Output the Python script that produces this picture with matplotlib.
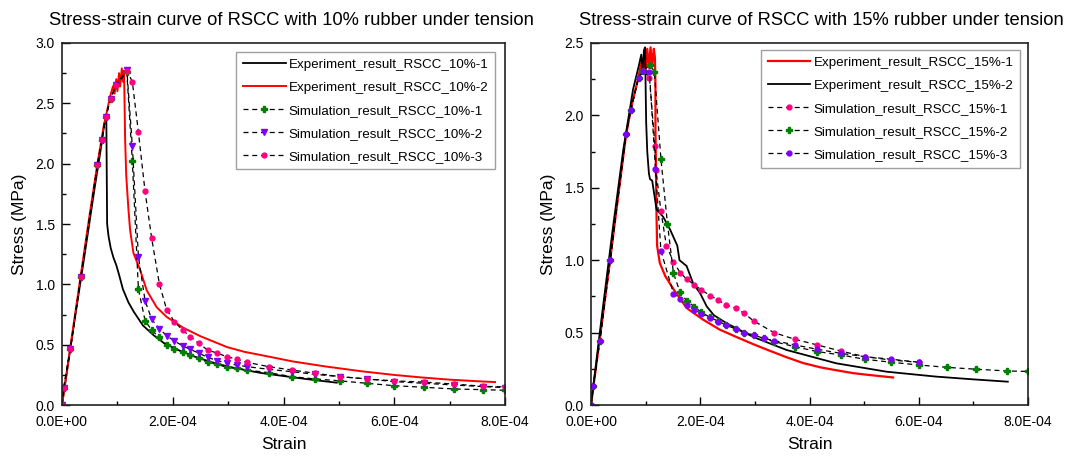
import matplotlib
matplotlib.use("Agg")
import matplotlib.pyplot as plt
from matplotlib.ticker import FuncFormatter, MultipleLocator

plt.rcParams['font.family'] = ['Liberation Sans', 'DejaVu Sans']

SCALE = 1e-4  # strain arrays below are given in units of 1e-4

# ---------------- 10% rubber ----------------
exp10_1_x = [0, 0.2, 0.4, 0.59, 0.7, 0.76, 0.80, 0.805, 0.81, 0.815, 0.84, 0.88, 0.93, 0.98, 1.03,
             1.10, 1.20, 1.30, 1.46, 1.65, 1.85, 2.10, 2.40, 2.70, 3.00, 3.30, 3.60, 4.00, 4.50, 4.96]
exp10_1_y = [0, 0.62, 1.22, 1.80, 2.12, 2.32, 2.41, 2.10, 1.80, 1.50, 1.40, 1.30, 1.22, 1.16, 1.08,
             0.96, 0.85, 0.77, 0.66, 0.58, 0.51, 0.455, 0.40, 0.355, 0.318, 0.29, 0.265, 0.24, 0.21, 0.185]

exp10_2_x = [0, 0.15, 0.34, 0.5, 0.64, 0.75, 0.87, 0.92, 0.95, 0.98, 1.0, 1.03, 1.05, 1.08, 1.10, 1.12,
             1.13, 1.14, 1.16, 1.20, 1.23, 1.29, 1.41, 1.53, 1.71, 1.89, 2.19, 2.50, 2.98, 3.30, 3.58,
             4.18, 4.78, 5.40, 5.98, 6.50, 7.00, 7.50, 7.82]
exp10_2_y = [0, 0.48, 1.08, 1.58, 2.0, 2.3, 2.56, 2.64, 2.58, 2.70, 2.60, 2.75, 2.64, 2.79, 2.68, 2.77,
             2.50, 2.20, 1.90, 1.62, 1.45, 1.26, 1.12, 0.95, 0.81, 0.73, 0.64, 0.57, 0.48, 0.44, 0.415,
             0.36, 0.318, 0.28, 0.25, 0.228, 0.21, 0.197, 0.19]

sim10_1_x = [0, 0.03, 0.15, 0.34, 0.64, 0.72, 0.79, 0.88, 0.975, 1.17, 1.27, 1.38, 1.50, 1.62, 1.76,
             1.89, 2.03, 2.18, 2.32, 2.47, 2.63, 2.80, 2.98, 3.16, 3.34, 3.73, 4.15, 4.57, 5.02, 5.50,
             6.0, 6.53, 7.07, 7.61, 8.0]
sim10_1_y = [0, 0.14, 0.46, 1.06, 1.99, 2.2, 2.39, 2.54, 2.65, 2.76, 2.02, 0.96, 0.70, 0.62, 0.56,
             0.50, 0.46, 0.44, 0.415, 0.387, 0.354, 0.337, 0.312, 0.304, 0.29, 0.268, 0.235, 0.216, 0.20, 0.18,
             0.16, 0.147, 0.133, 0.127, 0.122]

sim10_2_x = [0, 0.03, 0.15, 0.34, 0.64, 0.72, 0.79, 0.88, 0.975, 1.17, 1.27, 1.38, 1.50, 1.62, 1.76,
             1.89, 2.03, 2.18, 2.32, 2.47, 2.63, 2.80, 2.98, 3.16, 3.34, 3.73, 4.15, 4.57, 5.02, 5.50,
             6.0, 6.53, 7.07, 7.61, 8.0]
sim10_2_y = [0, 0.14, 0.46, 1.06, 1.99, 2.2, 2.39, 2.54, 2.65, 2.78, 2.15, 1.23, 0.865, 0.71, 0.63,
             0.575, 0.53, 0.49, 0.46, 0.43, 0.395, 0.368, 0.346, 0.33, 0.318, 0.296, 0.276, 0.254, 0.235, 0.216,
             0.194, 0.18, 0.166, 0.152, 0.145]

sim10_3_x = [0, 0.03, 0.15, 0.34, 0.64, 0.72, 0.79, 0.88, 0.975, 1.17, 1.27, 1.38, 1.50, 1.62, 1.76,
             1.89, 2.03, 2.18, 2.32, 2.47, 2.63, 2.80, 2.98, 3.16, 3.34, 3.73, 4.15, 4.57, 5.02, 5.50,
             6.0, 6.53, 7.07, 7.61, 8.0]
sim10_3_y = [0, 0.14, 0.46, 1.06, 1.99, 2.2, 2.39, 2.54, 2.65, 2.77, 2.68, 2.26, 1.77, 1.38, 1.0,
             0.79, 0.69, 0.62, 0.567, 0.51, 0.456, 0.43, 0.40, 0.38, 0.354, 0.318, 0.29, 0.263, 0.235, 0.216,
             0.20, 0.19, 0.174, 0.155, 0.15]

# ---------------- 15% rubber ----------------
exp15_1_x = [0, 0.2, 0.35, 0.5, 0.64, 0.75, 0.86, 0.92, 0.95, 0.98, 1.0, 1.03, 1.06, 1.09, 1.12, 1.15,
             1.17, 1.18, 1.18, 1.19, 1.20, 1.21, 1.26, 1.36, 1.51, 1.75, 2.05, 2.36, 2.66, 2.97, 3.27,
             3.58, 3.88, 4.20, 4.49, 4.80, 5.10, 5.53]
exp15_1_y = [0, 0.57, 1.0, 1.45, 1.86, 2.08, 2.25, 2.36, 2.30, 2.43, 2.32, 2.46, 2.33, 2.47, 2.34, 2.46,
             2.40, 2.20, 1.90, 1.60, 1.30, 1.10, 0.98, 0.89, 0.80, 0.67, 0.59, 0.52, 0.47, 0.42, 0.375,
             0.33, 0.29, 0.26, 0.24, 0.22, 0.207, 0.19]

exp15_2_x = [0, 0.2, 0.4, 0.59, 0.77, 0.88, 0.92, 0.94, 0.97, 0.99, 1.0, 1.01, 1.03, 1.06, 1.08, 1.12,
             1.16, 1.20, 1.32, 1.45, 1.58, 1.62, 1.75, 1.87, 2.0, 2.12, 2.25, 2.48, 2.97, 3.58, 4.49,
             5.41, 6.32, 7.0, 7.63]
exp15_2_y = [0, 0.62, 1.22, 1.76, 2.18, 2.35, 2.42, 2.30, 2.45, 2.47, 2.2, 1.95, 1.75, 1.60, 1.56, 1.55,
             1.45, 1.35, 1.30, 1.21, 1.10, 1.0, 0.96, 0.84, 0.77, 0.68, 0.62, 0.565, 0.47, 0.38, 0.288,
             0.23, 0.196, 0.177, 0.161]

sim15_1_x = [0, 0.04, 0.16, 0.35, 0.64, 0.73, 0.87, 0.96, 1.07, 1.17, 1.19, 1.28, 1.38, 1.51, 1.63,
             1.75, 1.89, 2.02, 2.18, 2.32, 2.48, 2.65, 2.80, 2.98, 3.35, 3.73, 4.14, 4.57, 5.01, 5.50, 6.01]
sim15_1_y = [0, 0.13, 0.44, 1.0, 1.87, 2.04, 2.26, 2.31, 2.26, 1.79, 1.62, 1.34, 1.10, 0.99, 0.915,
             0.87, 0.83, 0.795, 0.756, 0.726, 0.69, 0.668, 0.634, 0.58, 0.50, 0.454, 0.415, 0.373, 0.334, 0.31, 0.295]

sim15_2_x = [0, 0.04, 0.16, 0.35, 0.64, 0.73, 0.87, 0.96, 1.08, 1.16, 1.28, 1.40, 1.51, 1.63, 1.75,
             1.89, 2.02, 2.18, 2.32, 2.48, 2.65, 2.80, 2.98, 3.16, 3.35, 3.73, 4.14, 4.57, 5.01, 5.50,
             6.01, 6.52, 7.05, 7.62, 8.0]
sim15_2_y = [0, 0.13, 0.44, 1.0, 1.87, 2.04, 2.26, 2.31, 2.35, 2.30, 1.70, 1.25, 0.91, 0.78, 0.72,
             0.68, 0.64, 0.606, 0.58, 0.55, 0.525, 0.50, 0.484, 0.46, 0.438, 0.403, 0.369, 0.346, 0.316, 0.295,
             0.276, 0.26, 0.247, 0.235, 0.232]

sim15_3_x = [0, 0.04, 0.16, 0.35, 0.64, 0.73, 0.87, 0.96, 1.07, 1.18, 1.28, 1.51, 1.63, 1.75, 1.89,
             2.02, 2.18, 2.32, 2.48, 2.65, 2.80, 2.98, 3.16, 3.35, 3.73, 4.14, 4.57, 5.01, 5.50, 6.01]
sim15_3_y = [0, 0.13, 0.44, 1.0, 1.87, 2.04, 2.26, 2.31, 2.30, 1.63, 1.065, 0.77, 0.73, 0.69, 0.657,
             0.63, 0.60, 0.575, 0.55, 0.525, 0.50, 0.484, 0.46, 0.445, 0.415, 0.385, 0.357, 0.334, 0.316, 0.295]

titles = ["Stress-strain curve of RSCC with 10% rubber under tension",
          "Stress-strain curve of RSCC with 15% rubber under tension"]
x_ticks = [0, 2e-4, 4e-4, 6e-4, 8e-4]

GREEN = "#008000"
PURPLE = "#8000ff"
PINK = "#ff0080"
DASH = (0, (4, 3))

fig = plt.figure(figsize=(10.69, 4.61), dpi=100)
ax1 = fig.add_axes([62 / 1069, 56 / 461, 443 / 1069, 362 / 461])
ax2 = fig.add_axes([591 / 1069, 56 / 461, 437 / 1069, 362 / 461])


def sx(a):
    return [v * SCALE for v in a]


# left panel
ax1.plot(sx(exp10_1_x), exp10_1_y, color="black", lw=1.3, label="Experiment_result_RSCC_10%-1")
ax1.plot(sx(exp10_2_x), exp10_2_y, color="#ff0000", lw=1.4, label="Experiment_result_RSCC_10%-2")
ax1.plot(sx(sim10_1_x), sim10_1_y, marker="P", mfc=GREEN, mec=GREEN, markersize=4,
         color="black", ls=DASH, lw=0.9, label="Simulation_result_RSCC_10%-1")
ax1.plot(sx(sim10_2_x), sim10_2_y, marker="v", mfc=PURPLE, mec=PURPLE, markersize=4,
         color="black", ls=DASH, lw=0.9, label="Simulation_result_RSCC_10%-2")
ax1.plot(sx(sim10_3_x), sim10_3_y, marker="o", mfc=PINK, mec=PINK, markersize=3.5,
         color="black", ls=DASH, lw=0.9, label="Simulation_result_RSCC_10%-3")

# right panel
ax2.plot(sx(exp15_1_x), exp15_1_y, color="#ff0000", lw=1.6, label="Experiment_result_RSCC_15%-1")
ax2.plot(sx(exp15_2_x), exp15_2_y, color="black", lw=1.3, label="Experiment_result_RSCC_15%-2")
ax2.plot(sx(sim15_1_x), sim15_1_y, marker="o", mfc=PINK, mec=PINK, markersize=3.5,
         color="black", ls=DASH, lw=0.9, label="Simulation_result_RSCC_15%-1")
ax2.plot(sx(sim15_2_x), sim15_2_y, marker="P", mfc=GREEN, mec=GREEN, markersize=4,
         color="black", ls=DASH, lw=0.9, label="Simulation_result_RSCC_15%-2")
ax2.plot(sx(sim15_3_x), sim15_3_y, marker="o", mfc=PURPLE, mec=PURPLE, markersize=3.5,
         color="black", ls=DASH, lw=0.9, label="Simulation_result_RSCC_15%-3")

fmt_x = FuncFormatter(lambda v, p: f"{v:.1E}")
panels = ((ax1, titles[0], 3.0, (0.978, 0.976), 0.5 + 8 / 443),
          (ax2, titles[1], 2.5, (0.982, 0.981), 0.5 + 12 / 437))
for ax, title, ymax, anchor, tx in panels:
    ax.set_xlim(0, 8e-4)
    ax.set_ylim(0, ymax)
    ax.set_xticks(x_ticks)
    ax.xaxis.set_major_formatter(fmt_x)
    ax.xaxis.set_minor_locator(MultipleLocator(1e-4))
    ax.yaxis.set_major_locator(MultipleLocator(0.5))
    ax.yaxis.set_minor_locator(MultipleLocator(0.25))
    ax.yaxis.set_major_formatter(FuncFormatter(lambda v, p: f"{v:.1f}"))
    ax.tick_params(which="major", direction="in", length=6, width=1, labelsize=10)
    ax.tick_params(axis="x", which="major", pad=7)
    ax.tick_params(axis="y", which="major", pad=5)
    ax.tick_params(which="minor", direction="in", length=3, width=1)
    for s in ax.spines.values():
        s.set_linewidth(1.2)
        s.set_color("#222222")
    ax.set_xlabel("Strain", fontsize=12.5, labelpad=6)
    ax.set_ylabel("Stress (MPa)", fontsize=12.5, labelpad=6)
    ax.set_title(title, fontsize=13.2, pad=13, x=tx)
    leg = ax.legend(loc="upper right", fontsize=9.6, handlelength=3.2, handletextpad=0.25,
                    frameon=True, fancybox=False, edgecolor="#888888", labelspacing=0.8,
                    borderpad=0.5, borderaxespad=0, bbox_to_anchor=anchor)
    leg.get_frame().set_linewidth(1.0)

fig.savefig("out.png", dpi=100)
